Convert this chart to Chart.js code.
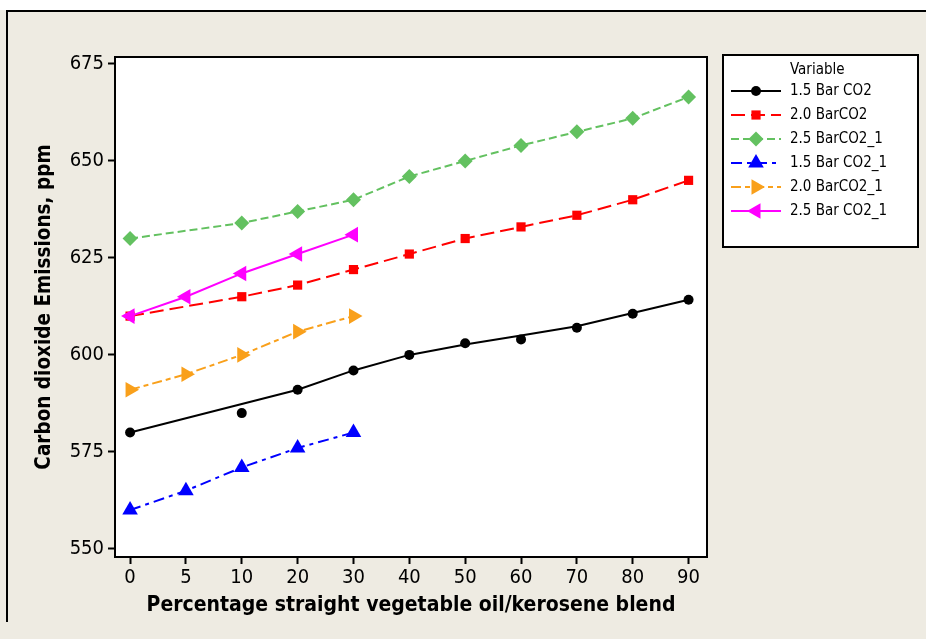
<!DOCTYPE html>
<html>
<head>
<meta charset="utf-8">
<script src="https://cdn.jsdelivr.net/npm/chart.js@4.4.1/dist/chart.umd.min.js"></script>
<style>
html,body{margin:0;padding:0;background:#EEEBE2;}
#wrap{width:926px;height:639px;position:relative;}
</style>
</head>
<body>
<div id="wrap"><canvas id="c" width="926" height="639"></canvas></div>
<script>
// ---- data ----
const categories = ['0','5','10','20','30','40','50','60','70','80','90'];
const yTicks = [550, 575, 600, 625, 650, 675];
const bar15Points = [580, null, 585, 591, 596, 600, 603, 604, 607, 610.6, 614.2];
const bar15Line   = [580, null, null, 591, 596, 600, 602.7, 605, 607.4, 610.8, 614.2];
const bar20   = [610, null, 615, 618, 622, 626, 630, 633, 636, 640, 645];
const bar25   = [630, null, 634, 637, 640, 646, 650, 654, 657.5, 661, 666.5];
const bar15_1 = [560, 565, 571, 576, 580];
const bar20_1 = [591, 595, 600, 606, 610];
const bar25_1 = [610, 615, 621, 626, 631];
const seriesNames = ['1.5 Bar CO2','2.0 BarCO2','2.5 BarCO2_1','1.5 Bar CO2_1','2.0 BarCO2_1','2.5 Bar CO2_1'];

const toXY = arr => arr.map((v, i) => ({x: i, y: v}));

const styles = [
  {color:'#000000', dash:[], point:'circle', r:5, rot:0},
  {color:'#FF0000', dash:[14,6], point:'rect', r:6.5, rot:0},
  {color:'#63C160', dash:[8,4], point:'rectRot', r:7.5, rot:0},
  {color:'#0000FF', dash:[11,5,4,5], point:'triangle', r:9, rot:0},
  {color:'#F9A01B', dash:[10,4,5,4], point:'triangle', r:9, rot:90},
  {color:'#FF00FF', dash:[], point:'triangle', r:9, rot:-90}
];

function ds(label, data, s, extra) {
  return Object.assign({
    label: label,
    data: toXY(data),
    borderColor: s.color,
    backgroundColor: s.color,
    borderWidth: 2,
    borderDash: s.dash,
    pointStyle: s.point,
    pointRadius: s.r,
    pointHoverRadius: s.r,
    pointRotation: s.rot,
    pointBorderWidth: 0,
    pointBackgroundColor: s.color,
    spanGaps: true,
    tension: 0,
    fill: false
  }, extra || {});
}

const datasets = [
  ds(seriesNames[0] + ' line', bar15Line, styles[0], {pointRadius:0, pointHoverRadius:0, order:6}),
  ds(seriesNames[0], bar15Points, styles[0], {showLine:false, order:5}),
  ds(seriesNames[1], bar20, styles[1], {order:4}),
  ds(seriesNames[2], bar25, styles[2], {order:3}),
  ds(seriesNames[3], bar15_1, styles[3], {order:2}),
  ds(seriesNames[4], bar20_1, styles[4], {order:1}),
  ds(seriesNames[5], bar25_1, styles[5], {order:0})
];

const FONT = "'DejaVu Sans Condensed','DejaVu Sans',Tahoma,sans-serif";

const framePlugin = {
  id: 'frame',
  beforeDraw(chart) {
    const ctx = chart.ctx;
    ctx.save();
    ctx.fillStyle = '#EEEBE2';
    ctx.fillRect(0, 0, 926, 639);
    ctx.fillStyle = '#FFFFFF';
    ctx.fillRect(0, 0, 926, 10);
    ctx.strokeStyle = '#000';
    ctx.lineWidth = 2;
    ctx.beginPath();
    ctx.moveTo(6, 11); ctx.lineTo(926, 11);
    ctx.moveTo(7, 10); ctx.lineTo(7, 622);
    ctx.stroke();
    const a = chart.chartArea;
    ctx.fillStyle = '#FFFFFF';
    ctx.fillRect(a.left, a.top, a.right - a.left, a.bottom - a.top);
    ctx.restore();
  },
  afterDraw(chart) {
    const ctx = chart.ctx;
    const a = chart.chartArea;
    ctx.save();
    ctx.strokeStyle = '#000';
    ctx.lineWidth = 2;
    ctx.strokeRect(a.left, a.top, a.right - a.left, a.bottom - a.top);
    // legend
    const lx = 723, ly = 55, lw = 195, lh = 192;
    ctx.fillStyle = '#FFFFFF';
    ctx.fillRect(lx, ly, lw, lh);
    ctx.strokeRect(lx, ly, lw, lh);
    ctx.fillStyle = '#000';
    ctx.font = "15px " + FONT;
    ctx.textBaseline = 'middle';
    ctx.textAlign = 'left';
    ctx.fillText('Variable', 790, 70);
    const drawPoint = Chart.helpers && Chart.helpers.drawPoint;
    for (let i = 0; i < 6; i++) {
      const s = styles[i];
      const y = 91 + i * 24;
      ctx.save();
      ctx.strokeStyle = s.color;
      ctx.lineWidth = 2;
      ctx.setLineDash(s.dash);
      ctx.beginPath();
      ctx.moveTo(731, y); ctx.lineTo(781, y);
      ctx.stroke();
      ctx.setLineDash([]);
      ctx.fillStyle = s.color;
      if (drawPoint) {
        drawPoint(ctx, {pointStyle: s.point, radius: s.r, rotation: s.rot, borderWidth: 0}, 756, y);
      }
      ctx.restore();
      ctx.fillStyle = '#000';
      ctx.font = "15px " + FONT;
      ctx.textBaseline = 'middle';
      ctx.fillText(seriesNames[i], 790, y);
    }
    ctx.restore();
  }
};

new Chart(document.getElementById('c'), {
  type: 'line',
  data: { datasets: datasets },
  plugins: [framePlugin],
  options: {
    responsive: false,
    animation: false,
    events: [],
    layout: { padding: { left: 0, top: 57, right: 219, bottom: 0 } },
    plugins: { legend: { display: false }, tooltip: { enabled: false } },
    scales: {
      x: {
        type: 'linear',
        min: -0.27,
        max: 10.33,
        afterBuildTicks: s => { s.ticks = categories.map((_, i) => ({value: i})); },
        afterFit: s => { s.height = 82; },
        grid: { display: true, drawOnChartArea: false, drawTicks: true, tickLength: 7, color: '#000', tickWidth: 2 },
        border: { display: true, color: '#000', width: 2 },
        ticks: {
          color: '#000',
          font: { family: FONT, size: 20 },
          padding: 2,
          maxRotation: 0,
          autoSkip: false,
          callback: v => categories[v]
        },
        title: {
          display: true,
          text: 'Percentage straight vegetable oil/kerosene blend',
          color: '#000',
          font: { family: FONT, size: 21, weight: 'bold' },
          padding: { top: 0, bottom: 21 }
        }
      },
      y: {
        min: 547.9,
        max: 676.8,
        afterBuildTicks: s => { s.ticks = yTicks.map(v => ({value: v})); },
        afterFit: s => { s.width = 115; },
        grid: { display: true, drawOnChartArea: false, drawTicks: true, tickLength: 7, color: '#000', tickWidth: 2 },
        border: { display: true, color: '#000', width: 2 },
        ticks: {
          color: '#000',
          font: { family: FONT, size: 20 },
          padding: 4,
          callback: v => String(v)
        },
        title: {
          display: true,
          text: 'Carbon dioxide Emissions, ppm',
          color: '#000',
          font: { family: FONT, size: 20.5, weight: 'bold' },
          padding: { top: 32, bottom: 0 }
        }
      }
    }
  }
});
</script>
</body>
</html>
